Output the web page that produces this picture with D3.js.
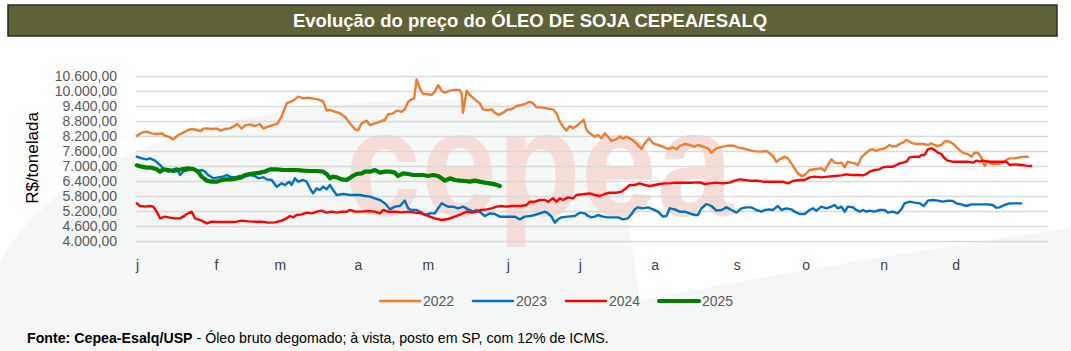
<!DOCTYPE html>
<html>
<head>
<meta charset="utf-8">
<script src="https://cdn.jsdelivr.net/npm/d3@7"></script>
<style>
html,body{margin:0;padding:0;background:#fff;}
svg{display:block;font-family:"Liberation Sans",Arial,sans-serif;}
</style>
</head>
<body>
<svg id="chart" width="1071" height="351"></svg>
<script>
// ---------- DATA ----------
const titleText = "Evolução do preço do ÓLEO DE SOJA CEPEA/ESALQ";
const yAxisTitle = "R$/tonelada";
const yTicks = [4000, 4600, 5200, 5800, 6400, 7000, 7600, 8200, 8800, 9400, 10000, 10600];
const monthLabels = ["j","f","m","a","m","j","j","a","s","o","n","d"];
const monthPos = [0.4, 32, 57.6, 88.8, 116.8, 148.8, 177.6, 207.6, 240.4, 268, 299.2, 328]; // day of year
const seriesNames = ["2022","2023","2024","2025"];

// [day of year, R$/t]
const s2022 = [[0.3,8213],[2.3,8333],[4.3,8373],[6.3,8307],[8.3,8280],[10.3,8307],[11.6,8213],[12.9,8173],[14.9,8067],[16.9,8240],[18.9,8333],[20.9,8440],[22.3,8480],[24.3,8440],[25.9,8400],[26.9,8493],[28.3,8507],[30.3,8480],[32.3,8493],[33.9,8413],[35.6,8480],[37.6,8507],[38.9,8573],[40.5,8680],[42.3,8507],[43.6,8613],[45.6,8667],[47.6,8600],[49.6,8680],[50.9,8507],[52.9,8573],[54.9,8640],[56.7,8707],[58.3,8973],[60.3,9507],[62.9,9613],[64.9,9773],[66.9,9707],[68.9,9733],[70.9,9693],[72.9,9667],[74.9,9573],[76.3,9213],[77.6,9240],[79.6,9173],[81.6,9107],[83.6,8973],[85.6,8707],[87.6,8467],
[88.9,8440],[90.3,8707],[92.3,8813],[93.6,8640],[95.6,8707],[97.6,8773],[99.6,8840],[100.9,9067],[102.9,9107],[104.3,9213],[106.3,9173],[107.6,9267],[108.9,9573],[110.3,9667],[111.3,9707],[112.3,10467],[113.6,10107],[114.9,9880],[116.3,9880],[118.3,9840],[119.6,9973],[120.9,10240],[122.3,10013],[123.6,9933],[125.6,10013],[127.6,10040],[129.6,10040],[130.3,9907],[130.9,9133],[132.3,10013],[133.6,9840],[135.6,9667],[137.6,9507],[138.9,9267],[140.9,9240],[142.3,9267],[143.6,9133],[145.2,9040],[146.9,9133],[148.9,9267],[150.3,9267],[152.3,9400],[154.3,9440],[156.3,9507],[157.6,9573],[158.9,9507],[160.3,9347],[162.3,9347],[164.3,9307],[166.9,9267],[168.3,9107],[169.6,8773],[170.9,8573],[172.3,8413],[173.6,8600],[174.9,8507],[176.3,8600],
[178.3,8773],[179.2,8840],[180.3,8440],[181.6,8307],[183.6,8173],[184.9,8240],[186.3,8107],[187.6,8307],[188.9,8173],[190.3,8000],[192.3,8080],[193.6,8173],[194.9,8107],[196.3,8173],[197.6,8107],[199.6,7973],[202.3,7680],[203.6,7907],[205.3,8107],[206.9,7907],[208.9,7840],[210.9,7773],[212.9,7680],[214.9,7747],[216.3,7667],[217.6,7800],[219.6,7880],[221.6,7840],[223.6,7773],[224.9,7840],[226.9,7773],[228.9,7707],[230.3,7533],[232.3,7707],[234.9,7773],[236.9,7813],[238.9,7813],[240.9,7747],[242.9,7707],[244.3,7667],[246.3,7613],[248.3,7587],[250.3,7573],[252.3,7600],[253.6,7507],[254.9,7400],[256.3,7173],[257.6,7267],[259.6,7373],[260.9,7307],[262.3,7107],[263.6,6907],[264.9,6707],[266.3,6600],
[267.6,6640],[269.6,6840],[272.3,6880],[274.3,6907],[275.6,6813],[276.9,7040],[278.3,7267],[279.6,7133],[280.9,7107],[282.3,7133],[283.6,6947],[284.9,7173],[286.3,7133],[287.6,7107],[288.9,7040],[290.3,7347],[292.3,7533],[293.6,7640],[294.9,7667],[296.3,7600],[297.6,7667],[298.9,7680],[300.3,7747],[301.6,7840],[302.9,7773],[304.3,7800],[305.6,7880],[306.9,7933],[308.3,8040],[309.6,7973],[310.9,7907],[312.9,7880],[314.9,7880],[316.9,7840],[318.3,7907],[319.6,7840],[320.9,7800],[322.3,7840],[323.6,7973],[324.9,8000],[326.3,7933],[327.6,7840],[328.9,7707],[330.3,7573],[331.6,7507],[332.9,7480],[334.3,7373],[335.6,7533],[336.9,7533],[338.3,7347],[339.6,7000],[340.9,7213],[342.3,7080],[343.6,7080],[345.6,7080],[346.9,7133],[348.3,7240],[349.6,7307],[351.6,7307],[353.6,7347],[355.6,7373],[356.9,7373]];

const s2023 = [[0.3,7373],[2.3,7307],[4.3,7267],[5.6,7307],[7.6,7213],[9.6,7040],[10.9,6907],[12.9,6773],[14.3,6840],[16.3,6907],[17.6,6640],[18.9,6773],[20.9,6840],[22.9,6907],[24.3,6773],[26.3,6840],[27.6,6773],[28.9,6640],[30.9,6507],[32.9,6547],[34.9,6573],[36.3,6640],[37.6,6573],[39.6,6547],[41.6,6600],[43.6,6573],[45.6,6640],[47.6,6600],[48.9,6507],[50.9,6547],[52.3,6467],[54.3,6440],[56.3,6173],[58.3,6307],[59.6,6240],[61.3,6373],[62.3,6240],[63.6,6507],[64.9,6373],[66.9,6440],[68.3,6373],[69.6,6107],[70.9,5907],[72.3,6107],[73.6,6040],[74.9,6173],[76.3,6067],[77.6,6240],[78.9,6040],[80.3,5840],[82.9,5880],[85.6,5840],
[87.6,5840],[89.6,5840],[91.6,5800],[93.6,5773],[95.6,5707],[97.6,5640],[99.6,5507],[101.6,5267],[103.6,5373],[105.6,5400],[107.6,5613],[108.9,5307],[110.3,5240],[112.3,5240],[114.3,5133],[115.6,5040],[117.6,5107],[119.6,5107],[120.9,5307],[122.3,5507],[123.6,5440],[124.9,5373],[126.9,5373],[128.9,5307],[130.9,5373],[132.9,5267],[134.9,5173],[136.3,5240],[138.3,5107],[139.6,5000],[141.6,5107],[143.6,5080],[145.6,4973],[147.6,4973],[149.6,4973],[151.6,4973],[153.6,4867],[155.6,4973],[157.6,5000],[159.6,5040],[161.6,5107],[163.6,5173],[164.9,5107],[166.3,4973],[167.6,4733],[168.9,4867],[170.3,4947],[172.9,4973],[175.6,5000],
[177.6,5133],[179.6,5107],[180.9,5000],[182.3,4947],[183.6,4973],[184.9,5040],[186.9,4973],[188.9,4947],[190.9,4947],[192.9,4947],[194.9,4867],[196.9,4907],[198.3,5080],[199.6,5267],[200.9,5347],[202.9,5307],[204.9,5347],[206.9,5267],[208.9,5173],[210.9,4973],[212.3,5000],[213.6,5307],[215.6,5267],[217.6,5173],[219.6,5173],[221.6,5107],[223.6,5040],[224.9,5040],[226.3,5307],[228.3,5480],[230.3,5400],[232.3,5213],[234.3,5240],[236.3,5347],[238.3,5240],[240.3,5133],[242.3,5307],[244.3,5347],[246.3,5347],[248.3,5240],[250.3,5173],[251.6,5240],[253.6,5267],[254.9,5240],[256.9,5400],[258.3,5240],[260.3,5307],[262.3,5267],[263.6,5173],[265.6,5080],
[267.6,5080],[269.6,5240],[270.9,5307],[272.3,5213],[274.3,5373],[276.3,5307],[278.3,5373],[279.6,5440],[280.9,5307],[282.3,5373],[283.6,5173],[284.9,5373],[286.9,5347],[288.3,5240],[289.6,5173],[290.9,5240],[292.3,5173],[293.6,5213],[295.6,5173],[297.6,5240],[299.6,5240],[300.9,5133],[302.9,5173],[304.9,5107],[306.3,5267],[307.6,5507],[309.6,5573],[311.6,5533],[313.6,5507],[315.3,5400],[316.9,5613],[318.9,5640],[320.9,5613],[322.9,5573],[324.9,5613],[326.9,5600],[328.3,5507],[330.3,5467],[332.3,5400],[334.3,5467],[336.3,5467],[338.3,5467],[340.9,5467],[342.9,5440],[344.3,5333],[345.6,5347],[347.6,5440],[349.6,5507],[351.6,5507],[354.3,5507]];

const s2024 = [[0.3,5507],[1.6,5400],[3.6,5373],[5.6,5400],[6.9,5373],[8.3,5173],[9.6,4907],[11.6,4973],[13.6,4933],[15.6,4907],[17.6,4907],[18.9,4973],[20.3,5080],[22.3,5173],[23.6,4907],[26.3,4813],[28.3,4707],[30.3,4773],[32.9,4760],[35.6,4760],[38.3,4760],[40.3,4773],[42.3,4813],[44.9,4787],[47.6,4773],[50.3,4773],[52.9,4733],[55.6,4747],[58.3,4813],[60.3,4907],[61.6,5000],[62.9,4947],[64.3,5040],[66.3,5067],[68.3,5133],[70.3,5107],[72.3,5173],[74.3,5213],[76.3,5133],[78.3,5173],[80.3,5133],[82.3,5173],[84.3,5173],[85.6,5240],
[87.6,5180],[90.3,5173],[92.9,5200],[95.6,5173],[97.6,5107],[98.9,5240],[100.9,5173],[103.6,5173],[106.3,5147],[108.9,5173],[111.6,5133],[114.3,5107],[116.9,5000],[119.6,4907],[122.3,4840],[124.9,4880],[127.6,4973],[130.3,5080],[132.3,5173],[134.3,5133],[136.3,5173],[138.3,5240],[140.3,5267],[142.3,5307],[144.3,5373],[146.3,5400],[148.3,5373],[150.3,5400],[152.3,5400],[154.3,5400],[156.3,5440],[157.6,5573],[159.6,5573],[161.6,5640],[163.6,5640],[164.9,5573],[166.9,5707],[168.3,5573],[169.6,5707],[170.9,5640],[172.9,5747],[174.9,5707],[176.3,5840],
[179.6,5880],[181.6,5907],[183.6,5840],[185.6,5800],[187.6,5880],[189.6,5933],[192.3,5933],[194.3,5973],[195.6,6067],[197.6,6240],[199.6,6240],[201.6,6307],[203.6,6240],[205.6,6200],[207.6,6240],[209.6,6280],[211.6,6307],[213.6,6307],[215.6,6333],[217.6,6333],[220.3,6333],[222.9,6333],[225.6,6347],[227.6,6280],[229.6,6307],[232.3,6333],[234.9,6307],[237.6,6333],[239.6,6413],[241.6,6467],[243.6,6440],[245.6,6413],[248.3,6413],[250.9,6373],[253.6,6373],[256.3,6373],[258.9,6373],[260.9,6307],[262.9,6400],[265.6,6440],
[267.6,6440],[269.6,6547],[271.6,6573],[274.3,6547],[276.9,6573],[279.6,6600],[282.3,6627],[284.3,6667],[286.3,6640],[288.9,6640],[290.9,6627],[292.3,6680],[293.6,6773],[295.6,6840],[297.6,6867],[298.9,6947],[300.9,6973],[302.9,6973],[304.3,7040],[305.6,7107],[306.9,7133],[308.3,7173],[309.6,7347],[311.6,7373],[313.6,7373],[314.3,7440],[315.6,7440],[316.9,7667],[318.3,7707],[319.6,7640],[320.9,7533],[322.3,7480],[323.6,7307],[324.9,7213],[326.9,7173],[328.9,7173],[330.9,7173],[332.9,7173],[334.9,7133],[336.3,7213],[337.6,7173],[338.9,7213],[340.9,7173],[343.6,7173],[346.3,7173],[348.3,7173],[349.6,7040],[351.6,7067],[354.3,7040],[356.3,7013],[358.3,7000]];

const s2025 = [[0.3,7027],[2.3,6973],[4.3,6933],[6.3,6933],[8.3,6867],[9.6,6773],[10.9,6867],[12.9,6840],[14.9,6800],[16.9,6840],[18.9,6880],[20.9,6907],[22.9,6880],[24.9,6773],[26.3,6573],[28.3,6413],[30.3,6373],[32.3,6373],[34.3,6440],[36.3,6467],[38.3,6467],[40.3,6507],[42.3,6547],[43.6,6640],[45.6,6680],[47.6,6707],[49.6,6733],[51.6,6773],[53.6,6867],[56.3,6867],[58.9,6840],[61.6,6840],[64.3,6840],[66.9,6813],[69.6,6800],[72.3,6800],[74.9,6773],[76.3,6680],[77.6,6507],[78.9,6573],[80.3,6547],[82.3,6467],[84.3,6440],[86.3,6573],[88.3,6680],[90.4,6707],[91.6,6773],[93.6,6773],[95.6,6840],[97.6,6733],[99.6,6773],[101.6,6773],[103.6,6733],[104.9,6600],[106.9,6707],[108.9,6680],[110.9,6640],[112.9,6640],[114.9,6640],[116.9,6600],[118.9,6640],[120.9,6600],[122.3,6507],[123.6,6413],[125.6,6507],[127.6,6440],[129.6,6413],[131.6,6400],[133.6,6373],[135.6,6413],[137.6,6373],[139.6,6333],[141.6,6307],[143.6,6267],[145.6,6200]];

const seriesData = [s2022, s2023, s2024, s2025];
const seriesColors = ["#ED7D31", "#0070C0", "#FF0000", "#008000"];
const seriesWidths = [2.4, 2.4, 2.4, 4.2];

const footerBold = "Fonte: Cepea-Esalq/USP";
const footerRest = " - Óleo bruto degomado; à vista, posto em SP, com 12% de ICMS.";

// ---------- DRAW ----------
const svg = d3.select("#chart");

// watermark background (logo)
svg.append("path")
  .attr("d", "M 0 351 L 0 262 C 60 150, 250 95, 470 100 C 560 102, 610 140, 625 200 L 640 300 C 800 270, 950 245, 1071 228 L 1071 351 Z")
  .attr("fill", "#f4f7f5");
svg.append("text")
  .attr("x", 345).attr("y", 216)
  .attr("font-size", 150).attr("font-weight", "bold")
  .attr("textLength", 388).attr("lengthAdjust", "spacingAndGlyphs")
  .attr("fill", "#f6dcd6")
  .text("cepea");

// title bar
svg.append("rect")
  .attr("x", 8).attr("y", 5).attr("width", 1049).attr("height", 31)
  .attr("fill", "#5f6137").attr("stroke", "#2b2b2b").attr("stroke-width", 1.5);
svg.append("text")
  .attr("x", 530).attr("y", 27)
  .attr("text-anchor", "middle")
  .attr("font-size", 18.5).attr("font-weight", "bold")
  .attr("fill", "#ffffff")
  .text(titleText);

const x = d3.scaleLinear().domain([0, 365]).range([136, 1048]);
const y = d3.scaleLinear().domain([4000, 10600]).range([241, 76]);

const br = d3.formatLocale({decimal: ",", thousands: ".", grouping: [3], currency: ["R$", ""]});
const fmt = br.format(",.2f");

// y axis + gridlines
const yAxis = svg.append("g")
  .attr("transform", "translate(136,0)")
  .call(d3.axisLeft(y).tickValues(yTicks).tickSize(-(1048 - 136)).tickPadding(19).tickFormat(fmt));
yAxis.select(".domain").remove();
yAxis.selectAll(".tick line").attr("stroke", "#d9d9d9").attr("stroke-width", 1.4);
yAxis.selectAll(".tick text")
  .attr("font-family", "Liberation Sans, Arial, sans-serif")
  .attr("font-size", 14).attr("fill", "#595959");

// x axis
const xAxis = svg.append("g")
  .attr("transform", "translate(0,241)")
  .call(d3.axisBottom(x).tickValues(monthPos).tickSize(0).tickPadding(19)
    .tickFormat((d, i) => monthLabels[i]));
xAxis.select(".domain").remove();
xAxis.selectAll(".tick text")
  .attr("font-family", "Liberation Sans, Arial, sans-serif")
  .attr("font-size", 14).attr("fill", "#404040");

// y axis title
svg.append("text")
  .attr("transform", "translate(38,158) rotate(-90)")
  .attr("text-anchor", "middle")
  .attr("font-size", 17).attr("fill", "#000")
  .text(yAxisTitle);

// lines
const line = d3.line().x(d => x(d[0])).y(d => y(d[1]));
seriesData.forEach((s, i) => {
  svg.append("path")
    .datum(s)
    .attr("d", line)
    .attr("fill", "none")
    .attr("stroke", seriesColors[i])
    .attr("stroke-width", seriesWidths[i])
    .attr("stroke-linejoin", "round")
    .attr("stroke-linecap", "round");
});

// legend
const legendX = [380, 473, 566, 659];
const lg = svg.append("g");
seriesNames.forEach((n, i) => {
  lg.append("line")
    .attr("x1", legendX[i]).attr("x2", legendX[i] + 40)
    .attr("y1", 301).attr("y2", 301)
    .attr("stroke", seriesColors[i]).attr("stroke-width", seriesWidths[i])
    .attr("stroke-linecap", "round");
  lg.append("text")
    .attr("x", legendX[i] + 43).attr("y", 306)
    .attr("font-size", 14).attr("fill", "#595959")
    .text(n);
});

// footer
const ft = svg.append("text")
  .attr("x", 27).attr("y", 343)
  .attr("font-size", 14.2).attr("fill", "#000");
ft.append("tspan").attr("font-weight", "bold").text(footerBold);
ft.append("tspan").text(footerRest);
</script>
</body>
</html>
